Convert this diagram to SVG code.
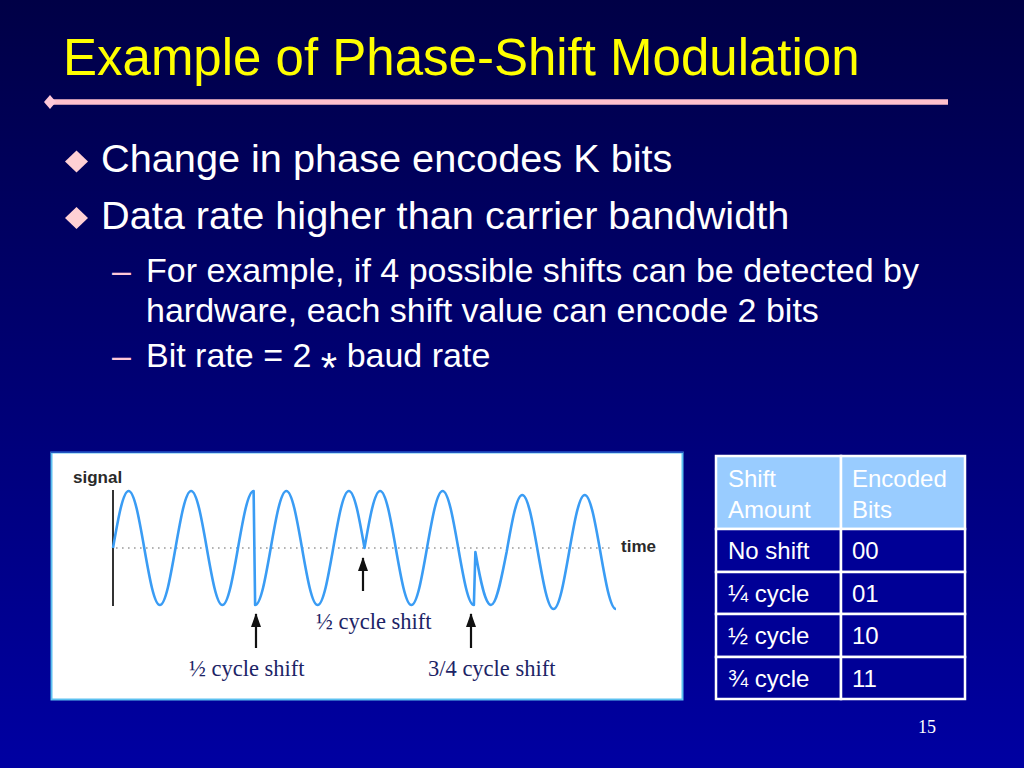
<svg xmlns="http://www.w3.org/2000/svg" width="1024" height="768" viewBox="0 0 1024 768">
  <defs>
    <linearGradient id="bg" x1="0" y1="0" x2="0" y2="1">
      <stop offset="0" stop-color="#000046"/>
      <stop offset="1" stop-color="#0000a2"/>
    </linearGradient>
    <marker id="ah" viewBox="0 0 14 10" refX="13" refY="5" markerWidth="14" markerHeight="10" markerUnits="userSpaceOnUse" orient="auto">
      <path d="M0,0 L14,5 L0,10 Z" fill="#111"/>
    </marker>
    <style>
      .title{font-family:"Liberation Sans",Arial,sans-serif;font-size:51px;fill:#ffff00}
      .b1{font-family:"Liberation Sans",Arial,sans-serif;font-size:39.7px;fill:#ffffff}
      .b2{font-family:"Liberation Sans",Arial,sans-serif;font-size:34px;fill:#ffffff}
      .dash{font-family:"Liberation Sans",Arial,sans-serif;font-size:34px;fill:#ffc8d8}
      .lbl{font-family:"Liberation Serif","Times New Roman",serif;font-size:22.5px;fill:#1c2466}
      .ax{font-family:"Liberation Sans",Arial,sans-serif;font-size:17px;font-weight:bold;fill:#2a2a2a}
      .th{font-family:"Liberation Sans",Arial,sans-serif;font-size:24px;fill:#ffffff}
      .td{font-family:"Liberation Sans",Arial,sans-serif;font-size:24px;fill:#ffffff}
      .wave{fill:none;stroke:#3a9cf4;stroke-width:2.6;stroke-linejoin:round}
      .arrow{stroke:#111;stroke-width:2.2;fill:none}
      .cell{stroke:#ffffff;stroke-width:2.5}
    </style>
  </defs>

  <rect x="0" y="0" width="1024" height="768" fill="url(#bg)"/>

  <g id="title">
    <text class="title" x="63" y="75">Example of Phase-Shift Modulation</text>
    <line x1="52" y1="102" x2="948" y2="102" stroke="#ffc0cc" stroke-width="5.5"/>
    <polygon points="44,102 50,95 56,102 50,109" fill="#ffc8d8"/>
  </g>

  <g id="bullets">
    <polygon points="65,161.5 76.5,150.5 88,161.5 76.5,172.5" fill="#ffd0d4"/>
    <text class="b1" x="101" y="172">Change in phase encodes K bits</text>
    <polygon points="65,218 76.5,207 88,218 76.5,229" fill="#ffd0d4"/>
    <text class="b1" x="101" y="228.5">Data rate higher than carrier bandwidth</text>
    <text class="dash" x="112" y="282">–</text>
    <text class="b2" x="146" y="282">For example, if 4 possible shifts can be detected by</text>
    <text class="b2" x="146" y="322">hardware, each shift value can encode 2 bits</text>
    <text class="dash" x="112" y="367">–</text>
    <text class="b2" x="146" y="367">Bit rate = 2 <tspan font-size="42" dy="15">*</tspan><tspan dy="-15"> baud rate</tspan></text>
  </g>

  <g id="figure">
    <rect x="51.5" y="452.5" width="631" height="247" fill="#ffffff" stroke="#5cc0f0" stroke-width="2"/>
    <line x1="51" y1="452" x2="683" y2="452" stroke="#1030b0" stroke-width="1.5"/>
    <text class="ax" x="73" y="483">signal</text>
    <text class="ax" x="621" y="552">time</text>
    <line x1="113" y1="490" x2="113" y2="606" stroke="#333333" stroke-width="2"/>
    <line x1="116" y1="548" x2="614" y2="548" stroke="#9a9a9a" stroke-width="1.6" stroke-dasharray="1.6 4.4"/>
    <path class="wave" d="M113,548
      c5.1,-29.2 9.97,-57 15.625,-57 c5.655,0 10.53,27.8 15.625,57 c5.1,29.2 9.97,57 15.625,57 c5.655,0 10.53,-27.8 15.625,-57
      c5.1,-29.2 9.97,-57 15.625,-57 c5.655,0 10.53,27.8 15.625,57 c5.1,29.2 9.97,57 15.625,57 c5.655,0 10.53,-27.8 15.625,-57
      c5.1,-29.2 9.97,-57 15.625,-57
      l1.5,114
      c5.655,0 10.53,-27.8 15.625,-57 c5.1,-29.2 9.97,-57 15.625,-57 c5.655,0 10.53,27.8 15.625,57 c5.1,29.2 9.97,57 15.625,57
      c5.655,0 10.53,-27.8 15.625,-57 c5.1,-29.2 9.97,-57 15.625,-57 c5.655,0 10.53,27.8 15.625,57
      c5.1,-29.2 9.97,-57 15.625,-57 c5.655,0 10.53,27.8 15.625,57 c5.1,29.2 9.97,57 15.625,57 c5.655,0 10.53,-27.8 15.625,-57
      c5.1,-29.2 9.97,-57 15.625,-57 c5.655,0 10.53,27.8 15.625,57 c5.1,29.2 9.97,57 15.625,57
      l1.5,-53
      c5.1,29.2 9.97,53 15.625,53 c5.655,0 10.53,-27.8 15.625,-53
      c5.1,-29.2 9.97,-57 15.625,-57 c5.655,0 10.53,27.8 15.625,57 c5.1,29.2 9.97,57 15.625,57 c5.655,0 10.53,-27.8 15.625,-57
      c5.1,-29.2 9.97,-57 15.625,-57 c5.655,0 10.53,27.8 15.625,57 c5.1,29.2 9.97,57 15.625,57"/>
    <g id="connectors">
      <line class="arrow" x1="256" y1="648" x2="256" y2="614" marker-end="url(#ah)"/>
      <line class="arrow" x1="363" y1="591" x2="363" y2="558" marker-end="url(#ah)"/>
      <line class="arrow" x1="471" y1="648" x2="471" y2="614" marker-end="url(#ah)"/>
    </g>
    <text class="lbl" x="316" y="629">½ cycle shift</text>
    <text class="lbl" x="189" y="676">½ cycle shift</text>
    <text class="lbl" x="428" y="676">3/4 cycle shift</text>
  </g>

  <g id="table">
    <rect class="cell" x="716" y="456" width="125" height="73" fill="#99ccff"/>
    <rect class="cell" x="841" y="456" width="124" height="73" fill="#99ccff"/>
    <rect class="cell" x="716" y="529" width="125" height="43" fill="#000096"/>
    <rect class="cell" x="841" y="529" width="124" height="43" fill="#000096"/>
    <rect class="cell" x="716" y="572" width="125" height="42" fill="#000096"/>
    <rect class="cell" x="841" y="572" width="124" height="42" fill="#000096"/>
    <rect class="cell" x="716" y="614" width="125" height="43" fill="#000096"/>
    <rect class="cell" x="841" y="614" width="124" height="43" fill="#000096"/>
    <rect class="cell" x="716" y="657" width="125" height="42" fill="#000096"/>
    <rect class="cell" x="841" y="657" width="124" height="42" fill="#000096"/>
    <text class="th" x="728" y="487">Shift</text>
    <text class="th" x="728" y="518">Amount</text>
    <text class="th" x="852" y="487">Encoded</text>
    <text class="th" x="852" y="518">Bits</text>
    <text class="td" x="728" y="559">No shift</text>
    <text class="td" x="852" y="559">00</text>
    <text class="td" x="728" y="602">¼ cycle</text>
    <text class="td" x="852" y="602">01</text>
    <text class="td" x="728" y="644">½ cycle</text>
    <text class="td" x="852" y="644">10</text>
    <text class="td" x="728" y="687">¾ cycle</text>
    <text class="td" x="852" y="687">11</text>
  </g>

  <text x="918" y="733" font-family="'Liberation Serif','Times New Roman',serif" font-size="18" fill="#ffffff">15</text>
</svg>
